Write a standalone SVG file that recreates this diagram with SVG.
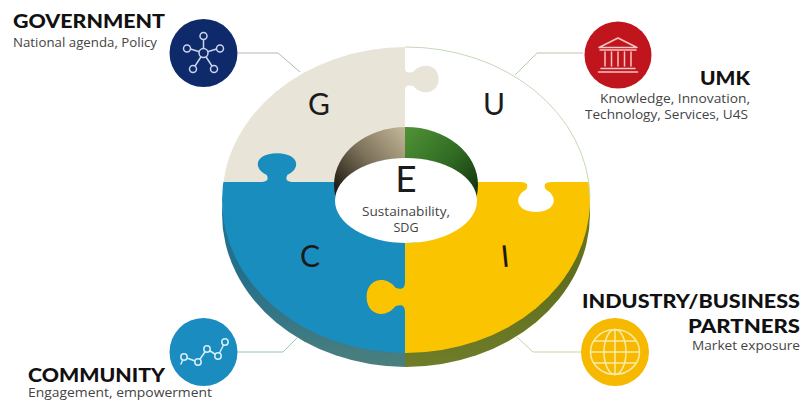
<svg xmlns="http://www.w3.org/2000/svg" xmlns:xlink="http://www.w3.org/1999/xlink" width="803" height="403" viewBox="0 0 803 403">
  <style>
    .title { font-family: Lato, "Open Sans", "DejaVu Sans", sans-serif; font-weight: 900; fill: #111; }
    .sub { font-family: "Open Sans", Lato, "DejaVu Sans", sans-serif; font-size: 12.5px; fill: #444; }
    .letter { font-family: Lato, "Open Sans", "DejaVu Sans", sans-serif; font-weight: 400; fill: #1b1b1b; text-anchor: middle; }
    .link { fill: none; stroke-width: 1; }
    .ico { fill: none; stroke-width: 1.5; stroke-linecap: round; stroke-linejoin: round; }
  </style>
  <defs>
    <!-- jigsaw tab, base on y=0, pointing to +y -->
    <path id="knob" d="M-8,-1.5 L-8,0 C-4,0 -4,3 -5,6 C-12,12 -10,24 0,24 C10,24 12,12 5,6 C4,3 4,0 8,0 L8,-1.5 Z"/>
    <clipPath id="topFace">
      <ellipse cx="406" cy="200" rx="184" ry="153"/>
    </clipPath>
    <clipPath id="leftHalf"><rect x="0" y="0" width="405" height="403"/></clipPath>
    <clipPath id="rightHalf"><rect x="405" y="0" width="398" height="403"/></clipPath>
    <linearGradient id="sideBlue" x1="0" y1="0" x2="0" y2="1">
      <stop offset="0" stop-color="#1a7ca3"/>
      <stop offset="0.7" stop-color="#256f8a"/>
      <stop offset="1" stop-color="#4b7f7e"/>
    </linearGradient>
    <linearGradient id="sideOlive" x1="0" y1="0" x2="0" y2="1">
      <stop offset="0" stop-color="#8f9428"/>
      <stop offset="0.7" stop-color="#5f6e1d"/>
      <stop offset="1" stop-color="#6f7d2a"/>
    </linearGradient>
    <linearGradient id="wallLeft" gradientUnits="userSpaceOnUse" x1="404" y1="128" x2="338" y2="188">
      <stop offset="0" stop-color="#c3b697"/>
      <stop offset="0.55" stop-color="#7a6f58"/>
      <stop offset="1" stop-color="#241f16"/>
    </linearGradient>
    <linearGradient id="wallRight" gradientUnits="userSpaceOnUse" x1="408" y1="128" x2="474" y2="188">
      <stop offset="0" stop-color="#4f9136"/>
      <stop offset="0.6" stop-color="#2f6a22"/>
      <stop offset="1" stop-color="#173b12"/>
    </linearGradient>
  </defs>

  <!-- leader lines from the icons to the ring -->
  <g id="connectors">
    <polyline class="link" stroke="#b4b8b2" points="238,53 278,53 300,72"/>
    <polyline class="link" stroke="#b8c9ad" points="583,53 537,53 515,75"/>
    <polyline class="link" stroke="#93c6c0" points="237,352 283,352 297,338"/>
    <polyline class="link" stroke="#ccd0aa" points="582,352 533,352 517,337"/>
  </g>

  <!-- extruded edge of the ring -->
  <g id="ring-side">
    <ellipse cx="406" cy="214" rx="184" ry="153" fill="url(#sideBlue)" clip-path="url(#leftHalf)"/>
    <ellipse cx="406" cy="214" rx="184" ry="153" fill="url(#sideOlive)" clip-path="url(#rightHalf)"/>
  </g>

  <!-- four puzzle pieces -->
  <g id="pieces" clip-path="url(#topFace)">
    <g id="piece-G">
      <rect x="200" y="30" width="205" height="152" fill="#e9e4d8"/>
    </g>
    <g id="piece-U">
      <rect x="405" y="30" width="200" height="152" fill="#ffffff"/>
    </g>
    <g id="piece-C">
      <rect x="200" y="182" width="205" height="190" fill="#1a8dbf"/>
    </g>
    <g id="piece-I">
      <rect x="405" y="182" width="200" height="190" fill="#fbc400"/>
    </g>
    <use xlink:href="#knob" href="#knob" fill="#e9e4d8" transform="translate(405,79) rotate(-90) scale(1.45,1.4)"/>
    <use xlink:href="#knob" href="#knob" fill="#1a8dbf" transform="translate(277,182) rotate(180) scale(2.1,1.2)"/>
    <use xlink:href="#knob" href="#knob" fill="#ffffff" transform="translate(536,182) scale(1.95,1.25)"/>
    <use xlink:href="#knob" href="#knob" fill="#fbc400" transform="translate(405,297) rotate(90) scale(1.85,1.6)"/>
  </g>
  <!-- faint rim on the white piece -->
  <path d="M405,47 A184,153 0 0 1 590,197" fill="none" stroke="#c4dab6" stroke-width="1"/>

  <!-- centre well -->
  <g id="centre-E">
    <ellipse cx="406" cy="185" rx="72" ry="58" fill="url(#wallLeft)" clip-path="url(#leftHalf)"/>
    <ellipse cx="406" cy="185" rx="72" ry="58" fill="url(#wallRight)" clip-path="url(#rightHalf)"/>
    <ellipse cx="406" cy="200.5" rx="71" ry="42.5" fill="#ffffff"/>
    <text class="letter" x="406" y="192" font-size="37" font-weight="300">E</text>
    <text class="sub" x="406" y="216" text-anchor="middle" fill="#3a3a3a" font-size="11.5" textLength="88" lengthAdjust="spacingAndGlyphs">Sustainability,</text>
    <text class="sub" x="406" y="231.5" text-anchor="middle" fill="#3a3a3a" font-size="11.5">SDG</text>
  </g>

  <!-- quadrant letters -->
  <text class="letter" x="319" y="115" font-size="30">G</text>
  <text class="letter" x="494" y="115" font-size="30">U</text>
  <text class="letter" x="310" y="267" font-size="30" fill="#0d1a38">C</text>
  <text class="letter" x="505" y="267" font-size="30" transform="rotate(-6 505 255)">I</text>

  <!-- Government -->
  <g id="government">
    <text class="title" x="13" y="28" font-size="19" textLength="152" lengthAdjust="spacingAndGlyphs">GOVERNMENT</text>
    <text class="sub" x="13" y="47" textLength="144" lengthAdjust="spacingAndGlyphs">National agenda, Policy</text>
    <circle cx="203.5" cy="53" r="34" fill="#0e2a6a"/>
    <g class="ico" stroke="#c9d4ee">
      <line x1="203.5" y1="53" x2="203.5" y2="39.5"/>
      <line x1="203.5" y1="53" x2="190.5" y2="49"/>
      <line x1="203.5" y1="53" x2="216.5" y2="49"/>
      <line x1="203.5" y1="53" x2="195" y2="66"/>
      <line x1="203.5" y1="53" x2="212" y2="66"/>
      <circle cx="203.5" cy="53" r="4.5" fill="#0e2a6a"/>
      <circle cx="203.5" cy="36" r="3.5" fill="#0e2a6a"/>
      <circle cx="187" cy="48.5" r="3.5" fill="#0e2a6a"/>
      <circle cx="220" cy="48.5" r="3.5" fill="#0e2a6a"/>
      <circle cx="193" cy="69" r="3.5" fill="#0e2a6a"/>
      <circle cx="214" cy="69" r="3.5" fill="#0e2a6a"/>
    </g>
  </g>

  <!-- UMK -->
  <g id="umk">
    <circle cx="618" cy="55" r="33.5" fill="#c1151d"/>
    <g class="ico" stroke="#f6c4c4" stroke-width="1.3">
      <path d="M618,38 L637,47.5 L599,47.5 Z"/>
      <line x1="600" y1="50" x2="636" y2="50"/>
      <line x1="605" y1="52" x2="605" y2="66"/>
      <line x1="611.5" y1="52" x2="611.5" y2="66"/>
      <line x1="618" y1="52" x2="618" y2="66"/>
      <line x1="624.5" y1="52" x2="624.5" y2="66"/>
      <line x1="631" y1="52" x2="631" y2="66"/>
      <line x1="601" y1="68.5" x2="635" y2="68.5"/>
      <line x1="598.5" y1="72" x2="637.5" y2="72"/>
    </g>
    <text class="title" x="750" y="85" font-size="18" text-anchor="end" textLength="50" lengthAdjust="spacingAndGlyphs">UMK</text>
    <text class="sub" x="750" y="103" text-anchor="end" textLength="150" lengthAdjust="spacingAndGlyphs">Knowledge, Innovation,</text>
    <text class="sub" x="748" y="119" text-anchor="end" textLength="163" lengthAdjust="spacingAndGlyphs">Technology, Services, U4S</text>
  </g>

  <!-- Community -->
  <g id="community">
    <circle cx="203.5" cy="352" r="34" fill="#1a8cc0"/>
    <g class="ico" stroke="#d5eef8" stroke-width="1.4">
      <polyline points="181,364 184,357 198,362 207,349 218,356 225,342"/>
      <circle cx="184" cy="357" r="3.2" fill="#1a8cc0"/>
      <circle cx="198" cy="362" r="3.2" fill="#1a8cc0"/>
      <circle cx="207" cy="349" r="3.2" fill="#1a8cc0"/>
      <circle cx="218" cy="356" r="3.2" fill="#1a8cc0"/>
      <circle cx="225" cy="342" r="3.2" fill="#1a8cc0"/>
    </g>
    <text class="title" x="28" y="382" font-size="19" textLength="137" lengthAdjust="spacingAndGlyphs">COMMUNITY</text>
    <text class="sub" x="28" y="397" textLength="184" lengthAdjust="spacingAndGlyphs">Engagement, empowerment</text>
  </g>

  <!-- Industry / business partners -->
  <g id="industry">
    <text class="title" x="800" y="308" font-size="19" text-anchor="end" textLength="218" lengthAdjust="spacingAndGlyphs">INDUSTRY/BUSINESS</text>
    <text class="title" x="800" y="333" font-size="19" text-anchor="end" textLength="112" lengthAdjust="spacingAndGlyphs">PARTNERS</text>
    <text class="sub" x="800" y="350" text-anchor="end" textLength="108" lengthAdjust="spacingAndGlyphs">Market exposure</text>
    <circle cx="615" cy="352" r="34" fill="#f6b900"/>
    <g class="ico" stroke="#fbeaa6" stroke-width="1.3">
      <ellipse cx="615" cy="352" rx="24.5" ry="22.5"/>
      <ellipse cx="615" cy="352" rx="11" ry="22.5"/>
      <line x1="615" y1="329.5" x2="615" y2="374.5"/>
      <line x1="590.5" y1="352" x2="639.5" y2="352"/>
      <line x1="594" y1="341" x2="636" y2="341"/>
      <line x1="594" y1="363" x2="636" y2="363"/>
    </g>
  </g>
</svg>
